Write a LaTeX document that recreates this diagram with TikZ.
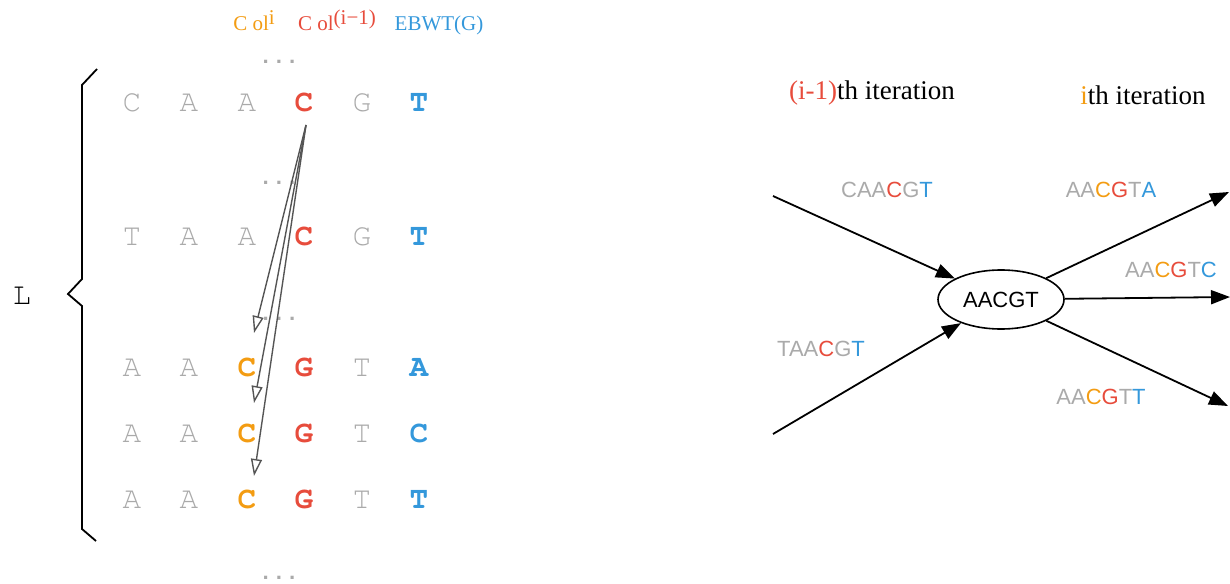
\documentclass[tikz,border=0pt]{standalone}
\usepackage{fontspec}
\setmainfont{Liberation Serif}
\newfontfamily\monof{texgyrecursor}[Extension=.otf, UprightFont=*-regular, BoldFont=*-bold]
\newfontfamily\dotf{Liberation Mono}
\newfontfamily\helf{Liberation Sans}
\usetikzlibrary{arrows.meta,shapes.geometric}
\definecolor{cgray}{HTML}{AAAAAA}
\definecolor{cred}{HTML}{E74C3C}
\definecolor{corange}{HTML}{F39C12}
\definecolor{cblue}{HTML}{3498DB}
\definecolor{cdark}{HTML}{555555}
\newcommand{\sups}[1]{\raisebox{6.5pt}{#1}}
\tikzset{
  cell/.style={font=\monof\fontsize{31}{32}\selectfont, anchor=base, inner sep=0pt},
  gcell/.style={cell, text=cgray},
  rcell/.style={cell, text=cred, font=\monof\bfseries\fontsize{31}{32}\selectfont},
  ocell/.style={cell, text=corange, font=\monof\bfseries\fontsize{31}{32}\selectfont},
  bcell/.style={cell, text=cblue, font=\monof\bfseries\fontsize{31}{32}\selectfont},
  dots/.style={font=\dotf\bfseries\fontsize{22}{24}\selectfont, text=cgray, anchor=base, inner sep=0pt},
  head/.style={font=\fontsize{21}{24}\selectfont, anchor=base, inner sep=0pt},
  iter/.style={font=\fontsize{27}{30}\selectfont, anchor=base, inner sep=0pt},
  seq/.style={font=\helf\fontsize{22}{24}\selectfont, anchor=base, inner sep=0pt, text=cgray},
  garrow/.style={draw=cdark, line width=1.4pt, -{Triangle[open, length=17pt, width=11pt]}},
  barrow/.style={draw=black, line width=1.8pt, -{Triangle[length=19pt, width=14pt]}},
  brace/.style={draw=black, line width=1.8pt},
}
\begin{document}
\begin{tikzpicture}[x=1pt,y=-1pt]
\useasboundingbox (0,0) rectangle (1230,583);
% headers
\node[head, text=corange] (h1) at (254,31) {C ol\sups{i}};
\node[head, text=cred] (h2) at (337,31) {C ol\sups{(i−1)}};
\node[head, text=cblue] (h3) at (439,31) {EBWT(G)};
% dots
\node[dots] (d1) at (279,64) {...};
\node[dots] (d2) at (279,184) {...};
\node[dots] (d3) at (279,320) {...};
\node[dots] (d4) at (279,579) {...};
% row 1
\node[gcell] (a1) at (132,112) {C};
\node[gcell] (a2) at (189,112) {A};
\node[gcell] (a3) at (247,112) {A};
\node[rcell] (a4) at (304,112) {C};
\node[gcell] (a5) at (362,112) {G};
\node[bcell] (a6) at (419,112) {T};
% row 2
\node[gcell] (b1) at (132,245) {T};
\node[gcell] (b2) at (189,245) {A};
\node[gcell] (b3) at (247,245) {A};
\node[rcell] (b4) at (304,245) {C};
\node[gcell] (b5) at (362,245) {G};
\node[bcell] (b6) at (419,245) {T};
% row 3
\node[gcell] (c1) at (132,376) {A};
\node[gcell] (c2) at (189,376) {A};
\node[ocell] (c3) at (247,376) {C};
\node[rcell] (c4) at (304,376) {G};
\node[gcell] (c5) at (362,376) {T};
\node[bcell] (c6) at (419,376) {A};
% row 4
\node[gcell] (e1) at (132,442) {A};
\node[gcell] (e2) at (189,442) {A};
\node[ocell] (e3) at (247,442) {C};
\node[rcell] (e4) at (304,442) {G};
\node[gcell] (e5) at (362,442) {T};
\node[bcell] (e6) at (419,442) {C};
% row 5
\node[gcell] (f1) at (132,508) {A};
\node[gcell] (f2) at (189,508) {A};
\node[ocell] (f3) at (247,508) {C};
\node[rcell] (f4) at (304,508) {G};
\node[gcell] (f5) at (362,508) {T};
\node[bcell] (f6) at (419,508) {T};
% brace and L
\draw[brace] (97,69) -- (82,85) -- (82,279) -- (68,294) -- (82,306) -- (82,529) -- (96,541);
\node[cell] (L) at (22,304) {L};
% left arrows
\coordinate (src) at (306,125);
\coordinate (t1) at (254,333);
\coordinate (t2) at (254,403);
\coordinate (t3) at (254,476);
\draw[garrow] (src) -- (t1);
\draw[garrow] (src) -- (t2);
\draw[garrow] (src) -- (t3);
% right side
\node[iter] (it1) at (872,100) {\textcolor{cred}{(i-1)}th iteration};
\node[iter] (it2) at (1143,105) {\textcolor{corange}{i}th iteration};
\node[draw=black, line width=1.6pt, ellipse, minimum width=126pt, minimum height=59pt, inner sep=0pt,
      font=\helf\fontsize{22}{24}\selectfont] (ell) at (1001,299.5) {AACGT};
\coordinate (in1) at (773,196);
\coordinate (in2) at (773,434);
\coordinate (o1) at (1229,192);
\coordinate (o2) at (1230,297);
\coordinate (o3) at (1228,406);
\draw[barrow] (in1) -- (ell);
\draw[barrow] (in2) -- (ell);
\draw[barrow] (ell) -- (o1);
\draw[barrow] (ell) -- (o2);
\draw[barrow] (ell) -- (o3);
\node[seq] (s1) at (887,197) {CAA\textcolor{cred}{C}G\textcolor{cblue}{T}};
\node[seq] (s2) at (821,356) {TAA\textcolor{cred}{C}G\textcolor{cblue}{T}};
\node[seq] (s3) at (1111,197) {AA\textcolor{corange}{C}\textcolor{cred}{G}T\textcolor{cblue}{A}};
\node[seq] (s4) at (1171,277) {AA\textcolor{corange}{C}\textcolor{cred}{G}T\textcolor{cblue}{C}};
\node[seq] (s5) at (1101,404) {AA\textcolor{corange}{C}\textcolor{cred}{G}T\textcolor{cblue}{T}};
\end{tikzpicture}
\end{document}
